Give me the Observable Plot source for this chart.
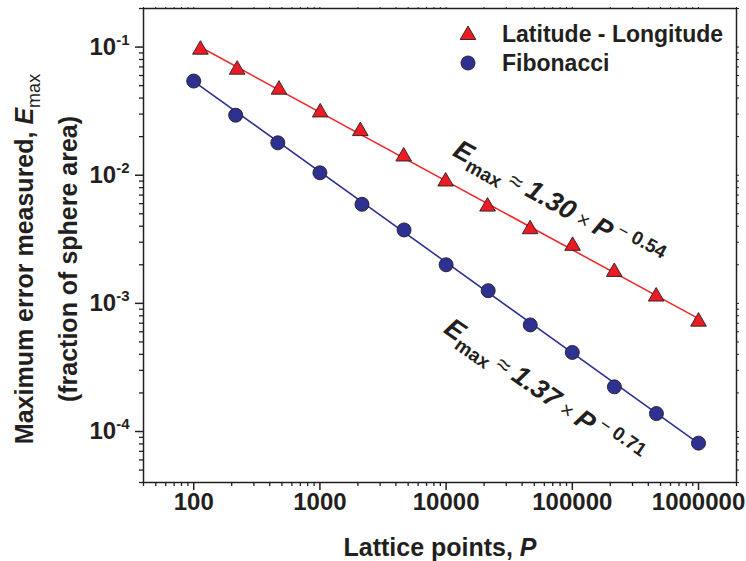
<!DOCTYPE html>
<html>
<head>
<meta charset="utf-8">
<script src="https://cdn.jsdelivr.net/npm/d3@7"></script>
<script src="https://cdn.jsdelivr.net/npm/@observablehq/plot@0.6"></script>
<style>
html, body { margin: 0; padding: 0; background: #fff; }
#chart { width: 746px; height: 561px; }
</style>
</head>
<body>
<div id="chart"></div>
<script>
// ---- Data ----
// Fibonacci lattice
const fibP = [100, 215, 464, 1000, 2154, 4642, 10000, 21544, 46416, 100000, 215443, 464159, 1000000];
const fibE = [0.0543, 0.0294, 0.0179, 0.01044, 0.00593, 0.00374, 0.00200, 0.001256, 0.000679, 0.000414, 0.000223, 0.000138, 0.0000811];
// Latitude - Longitude lattice
const llP = [113, 221, 474, 1005, 2090, 4610, 9910, 21300, 46300, 100500, 215000, 462000, 1000000];
const llE = [0.0954, 0.0666, 0.0465, 0.0309, 0.0221, 0.0140, 0.00893, 0.00569, 0.00379, 0.00281, 0.00176, 0.00113, 0.000720];
// Power-law fit lines (end points)
const llFitP = [113, 1000000];
const llFitE = [0.100, 0.00076];
const fibFitP = [100, 1000000];
const fibFitE = [0.054, 0.0000808];
// Annotation anchor positions (data coordinates) and texts
const llLabelPos = [{P: 11040, E: 0.01439}];
const fibLabelPos = [{P: 9360, E: 0.000601}];
const llCoef = "1.30", llExp = "0.54";
const fibCoef = "1.37", fibExp = "0.71";
// Axes
const xTicks = [100, 1000, 10000, 100000, 1000000];
const yTicks = [1e-4, 1e-3, 1e-2, 1e-1];
const xDomain = [40, 2e6];
const yDomain = [4e-5, 0.2];
const seriesNames = ["Latitude - Longitude", "Fibonacci"];

// ---- Build ----
const FONT = '"Liberation Sans", Arial, Helvetica, sans-serif';
const INK = "#231f20";
const RED_FILL = "#ed1c24", RED_LINE = "#ef2b2d";
const BLUE_FILL = "#2e3192", BLUE_LINE = "#2e3192";

const llData = llP.map((P, i) => ({P, E: llE[i]}));
const fibData = fibP.map((P, i) => ({P, E: fibE[i]}));
const llFit = llFitP.map((P, i) => ({P, E: llFitE[i]}));
const fibFit = fibFitP.map((P, i) => ({P, E: fibFitE[i]}));

const minorX = [];
for (let e = 1; e <= 6; e++) for (let m = 2; m <= 9; m++) {
  const v = m * Math.pow(10, e);
  if (v >= xDomain[0] && v <= xDomain[1]) minorX.push(v);
}
const minorY = [];
for (let e = -5; e <= -1; e++) for (let m = 2; m <= 9; m++) {
  const v = +(m * Math.pow(10, e)).toPrecision(3);
  if (v >= yDomain[0] - 1e-12 && v <= yDomain[1] + 1e-12) minorY.push(v);
}

const chart = Plot.plot({
  width: 746,
  height: 561,
  marginLeft: 143,
  marginRight: 10,
  marginTop: 8,
  marginBottom: 79,
  x: {type: "log", domain: xDomain},
  y: {type: "log", domain: yDomain},
  style: {fontFamily: FONT, fontSize: "24px", fontWeight: "bold", color: INK, background: "white", overflow: "visible"},
  marks: [
    Plot.axisX(minorX, {tickSize: 4, strokeWidth: 1.3, tickFormat: () => "", label: null}),
    Plot.axisX(xTicks, {tickSize: 8, strokeWidth: 1.5, tickPadding: 2, tickFormat: d => String(d), label: null, fontSize: 24}),
    Plot.axisX(minorX.concat(xTicks), {anchor: "top", tickSize: 2, strokeWidth: 1, tickFormat: () => "", label: null}),
    Plot.axisY(minorY, {tickSize: 4, strokeWidth: 1.3, tickFormat: () => "", label: null}),
    Plot.axisY(yTicks, {tickSize: 8, strokeWidth: 1.5, tickPadding: 6, tickFormat: d => "10^" + Math.round(Math.log10(d)), label: null, fontSize: 24}),
    Plot.axisY(minorY.concat(yTicks), {anchor: "right", tickSize: 2, strokeWidth: 1, tickFormat: () => "", label: null}),
    Plot.line(llFit, {x: "P", y: "E", stroke: RED_LINE, strokeWidth: 1.6}),
    Plot.line(fibFit, {x: "P", y: "E", stroke: BLUE_LINE, strokeWidth: 1.6}),
    Plot.dot(llData, {x: "P", y: "E", symbol: "triangle", r: 5.8, fill: RED_FILL, stroke: INK, strokeWidth: 0.9}),
    Plot.dot(fibData, {x: "P", y: "E", symbol: "circle", r: 7, fill: BLUE_FILL, stroke: INK, strokeWidth: 0.9}),
    Plot.text(llLabelPos, {x: "P", y: "E", text: () => "@LL", rotate: 29, textAnchor: "start", lineAnchor: "bottom", fontSize: 26, fill: INK}),
    Plot.text(fibLabelPos, {x: "P", y: "E", text: () => "@FIB", rotate: 35, textAnchor: "start", lineAnchor: "bottom", fontSize: 26, fill: INK}),
    Plot.frame({stroke: INK, strokeWidth: 1.5})
  ]
});

document.getElementById("chart").appendChild(chart);
const svg = d3.select(chart);

// Superscript y tick labels: 10^-n
svg.selectAll("text").each(function() {
  const t = d3.select(this);
  const s = t.text();
  if (s.startsWith("10^")) {
    const exp = s.slice(3);
    t.text(null);
    t.append("tspan").text("10");
    t.append("tspan").attr("font-size", 15).attr("dy", -10).text(exp);
  }
});

// Fit annotations with sub/superscripts
function fitLabel(tag, coef, exp) {
  svg.selectAll("text").filter(function() { return d3.select(this).text() === tag; }).each(function() {
    const t = d3.select(this);
    t.text(null);
    t.append("tspan").attr("font-style", "italic").attr("font-size", 27).text("E");
    t.append("tspan").attr("font-size", 19).attr("dy", 7).text("max");
    t.append("tspan").attr("font-weight", "normal").attr("font-size", 24).attr("dy", -7).text(" \u2248 ");
    t.append("tspan").attr("font-size", 27).attr("font-style", "italic").text(coef);
    t.append("tspan").attr("font-weight", "normal").attr("font-size", 21).text(" \u00d7 ");
    t.append("tspan").attr("font-style", "italic").attr("font-size", 27).text("P");
    t.append("tspan").attr("font-weight", "normal").attr("font-size", 18).attr("dy", -11).text(" \u2212 ");
    t.append("tspan").attr("font-size", 19).text(exp);
  });
}
fitLabel("@LL", llCoef, llExp);
fitLabel("@FIB", fibCoef, fibExp);

// Axis titles
const xTitle = svg.append("text")
  .attr("x", 440).attr("y", 556)
  .attr("text-anchor", "middle").attr("font-size", 25).attr("font-weight", "bold").attr("fill", INK);
xTitle.append("tspan").text("Lattice points, ");
xTitle.append("tspan").attr("font-style", "italic").text("P");

const yTitle1 = svg.append("text")
  .attr("transform", "translate(33,259) rotate(-90)")
  .attr("text-anchor", "middle").attr("font-size", 25).attr("font-weight", "bold").attr("fill", INK);
yTitle1.append("tspan").text("Maximum error measured, ");
yTitle1.append("tspan").attr("font-style", "italic").text("E");
yTitle1.append("tspan").attr("font-weight", "normal").attr("font-size", 18).attr("dy", 7).text("max");

svg.append("text")
  .attr("transform", "translate(77,259) rotate(-90)")
  .attr("text-anchor", "middle").attr("font-size", 25).attr("font-weight", "bold").attr("fill", INK)
  .text("(fraction of sphere area)");

// Legend
const legend = svg.append("g").attr("font-size", 23).attr("font-weight", "bold").attr("fill", INK).attr("text-anchor", "start");
const triPath = d3.symbol(d3.symbolTriangle, Math.PI * 5.8 * 5.8)();
legend.append("path").attr("d", triPath).attr("transform", "translate(468,35)")
  .attr("fill", RED_FILL).attr("stroke", INK).attr("stroke-width", 0.9);
legend.append("text").attr("x", 502).attr("y", 41.5).attr("text-anchor", "start").text(seriesNames[0]);
legend.append("circle").attr("cx", 468).attr("cy", 63).attr("r", 7)
  .attr("fill", BLUE_FILL).attr("stroke", INK).attr("stroke-width", 0.9);
legend.append("text").attr("x", 502).attr("y", 70.5).attr("text-anchor", "start").text(seriesNames[1]);
</script>
</body>
</html>
